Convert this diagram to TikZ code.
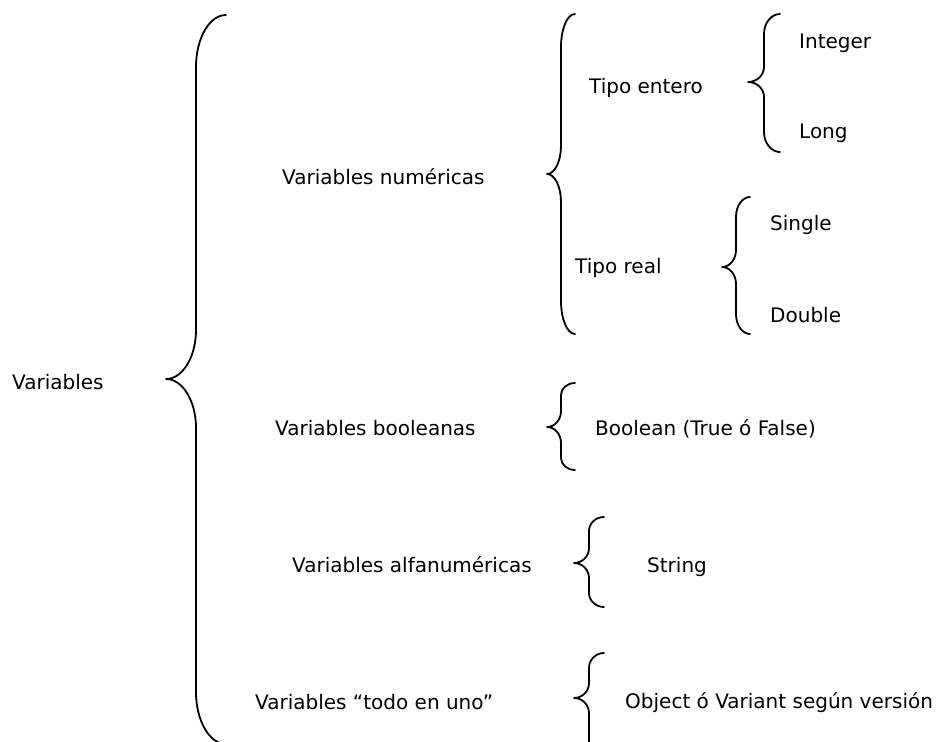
\documentclass[tikz,border=0pt]{standalone}
\usepackage{fontspec}
\setmainfont{DejaVu Sans}
\tikzset{
  lbl/.style={anchor=base west, inner sep=0pt, font=\fontsize{20}{24}\selectfont},
  brc/.style={line width=1.8pt, line cap=round, line join=round}
}
% #1 xv, #2 ytop, #3 ytip, #4 ybot, #5 rx, #6 ry end hooks, #7 ry tip
\newcommand{\mybrace}[7]{%
  \draw[brc] ({#1+#5},#2)
    .. controls ({#1+0.448*#5},#2) and (#1,{#2+0.448*#6}) .. (#1,{#2+#6})
    -- (#1,{#3-#7})
    .. controls (#1,{#3-0.448*#7}) and ({#1-0.448*#5},#3) .. ({#1-#5},#3)
    .. controls ({#1-0.448*#5},#3) and (#1,{#3+0.448*#7}) .. (#1,{#3+#7})
    -- (#1,{#4-#6})
    .. controls (#1,{#4-0.448*#6}) and ({#1+0.448*#5},#4) .. ({#1+#5},#4);%
}
\begin{document}
\begin{tikzpicture}[x=1pt,y=-1pt]
\useasboundingbox[fill=white] (0,0) rectangle (946,742);
% braces
\mybrace{196}{15}{379}{744}{30}{52}{49}
\mybrace{561}{14}{174}{334}{14}{33}{28}
\mybrace{764}{14}{82}{152}{16}{20}{15}
\mybrace{736}{197}{267}{334}{14}{20}{17}
\mybrace{561}{383}{427}{470}{14}{12}{16}
\mybrace{589}{517}{563}{607}{15}{14}{15}
\mybrace{589}{653}{698}{760}{15}{15}{15}
% labels
\node[lbl] (v) at (12,389) {Variables};
\node[lbl] (num) at (282,184) {Variables numéricas};
\node[lbl] (bool) at (275,435) {Variables booleanas};
\node[lbl] (alfa) at (292,572) {Variables alfanuméricas};
\node[lbl] (todo) at (255,709) {Variables “todo en uno”};
\node[lbl] (ent) at (589,93) {Tipo entero};
\node[lbl] (real) at (575,273) {Tipo real};
\node[lbl] (int) at (799,48) {Integer};
\node[lbl] (long) at (799,138) {Long};
\node[lbl] (single) at (770,230) {Single};
\node[lbl] (double) at (770,322) {Double};
\node[lbl] (boolean) at (595,435) {Boolean (True ó False)};
\node[lbl] (string) at (647,572) {String};
\node[lbl] (object) at (625,708) {Object ó Variant según versión};
\end{tikzpicture}
\end{document}
